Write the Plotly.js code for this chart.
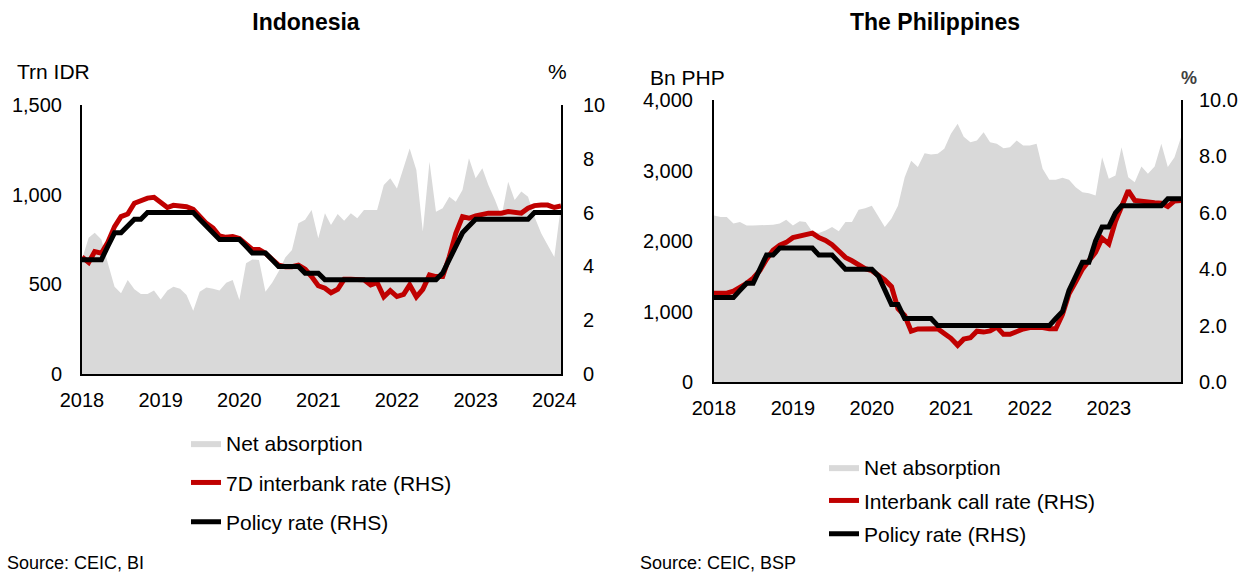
<!DOCTYPE html>
<html>
<head>
<meta charset="utf-8">
<script src="https://cdn.plot.ly/plotly-3.0.1.min.js"></script>
<style>
  html, body { margin: 0; padding: 0; background: #fff; }
  #wrap { position: relative; width: 1252px; height: 572px; }
  #idn { position: absolute; left: 0; top: 0; width: 626px; height: 572px; }
  #phl { position: absolute; left: 626px; top: 0; width: 626px; height: 572px; }
</style>
</head>
<body>
<div id="wrap"><div id="idn"></div><div id="phl"></div></div>
<script>
// ---------------- DATA ----------------
// Indonesia: monthly, Jan 2018 - Feb 2024
const idStart = [2018, 1];
const idNetAbsorption = [640,760,788,750,617,487,450,524,472,446,446,465,
  416,465,487,476,440,353,459,483,476,465,509,524,
  413,617,639,636,459,509,571,650,691,840,860,914,
  757,896,831,892,855,896,868,914,914,914,1054,1091,
  1035,1147,1258,1138,794,1184,905,924,989,961,1026,1203,
  1091,1147,1054,970,877,1072,970,1017,989,877,785,719,
  652,940];
const idInterbank = [4.35,4.15,4.55,4.49,4.90,5.48,5.85,5.95,6.35,6.45,6.54,6.57,
  6.37,6.19,6.27,6.26,6.22,6.12,5.85,5.60,5.42,5.13,5.08,5.11,
  5.04,4.82,4.63,4.63,4.49,4.26,4.05,3.99,3.99,4.05,3.90,3.62,
  3.28,3.19,3.02,3.15,3.52,3.52,3.52,3.50,3.31,3.40,2.87,3.10,
  2.88,2.96,3.31,2.87,3.15,3.68,3.62,3.62,4.36,5.23,5.85,5.79,
  5.88,5.95,5.98,5.98,5.98,6.04,6.00,5.98,6.16,6.26,6.28,6.28,
  6.19,6.25];
const idPolicy = [4.25,4.25,4.25,4.25,4.75,5.25,5.25,5.50,5.75,5.75,6.00,6.00,
  6.00,6.00,6.00,6.00,6.00,6.00,5.75,5.50,5.25,5.00,5.00,5.00,
  5.00,4.75,4.50,4.50,4.50,4.25,4.00,4.00,4.00,4.00,3.75,3.75,
  3.75,3.50,3.50,3.50,3.50,3.50,3.50,3.50,3.50,3.50,3.50,3.50,
  3.50,3.50,3.50,3.50,3.50,3.50,3.50,3.75,4.25,4.75,5.25,5.50,
  5.75,5.75,5.75,5.75,5.75,5.75,5.75,5.75,5.75,6.00,6.00,6.00,
  6.00,6.00];
const idYearTicks = ['2018','2019','2020','2021','2022','2023','2024'];

// Philippines: monthly, Jan 2018 - Dec 2023
const phStart = [2018, 1];
const phNetAbsorption = [2360,2340,2340,2250,2270,2220,2220,2220,2220,2230,2250,2300,
  2220,2280,2270,2130,2115,2150,2200,2140,2270,2270,2445,2466,
  2500,2340,2200,2320,2500,2906,3140,3050,3245,3227,3237,3310,
  3520,3662,3480,3402,3426,3544,3402,3379,3317,3331,3426,3355,
  3355,3379,3025,2869,2869,2897,2869,2764,2693,2679,2646,3189,
  2883,2930,3331,2906,2835,3057,2953,3057,3379,3050,3189,3473];
const phInterbank = [3.15,3.15,3.15,3.22,3.35,3.50,3.68,3.95,4.35,4.67,4.85,4.95,
  5.12,5.17,5.22,5.28,5.12,5.02,4.87,4.62,4.42,4.30,4.13,4.02,
  3.95,3.80,3.62,3.38,2.60,2.36,1.80,1.88,1.87,1.86,1.89,1.72,
  1.55,1.30,1.52,1.57,1.80,1.77,1.81,1.95,1.69,1.69,1.81,1.88,
  1.93,1.95,1.93,1.89,1.89,2.40,3.13,3.55,4.00,4.30,4.60,5.10,
  4.90,5.70,6.20,6.79,6.44,6.40,6.38,6.36,6.34,6.22,6.42,6.44];
const phPolicy = [3.00,3.00,3.00,3.00,3.25,3.50,3.50,4.00,4.50,4.50,4.75,4.75,
  4.75,4.75,4.75,4.75,4.50,4.50,4.50,4.25,4.00,4.00,4.00,4.00,
  4.00,3.75,3.25,2.75,2.75,2.25,2.25,2.25,2.25,2.25,2.00,2.00,
  2.00,2.00,2.00,2.00,2.00,2.00,2.00,2.00,2.00,2.00,2.00,2.00,
  2.00,2.00,2.00,2.00,2.25,2.50,3.25,3.75,4.25,4.25,5.00,5.50,
  5.50,6.00,6.25,6.25,6.25,6.25,6.25,6.25,6.25,6.50,6.50,6.50];
const phYearTicks = ['2018','2019','2020','2021','2022','2023'];

// ---------------- HELPERS ----------------
function monthDates(start, n) {
  const out = [];
  let y = start[0], m = start[1];
  for (let k = 0; k < n; k++) {
    out.push(y + '-' + String(m).padStart(2, '0') + '-01');
    m++; if (m > 12) { m = 1; y++; }
  }
  return out;
}
const FONT = 'Liberation Sans, Arial, sans-serif';
const GREY = '#d9d9d9', RED = '#c00000', BLACK = '#000000';

function buildTraces(dates, net, ib, pol, ibName) {
  return [
    { x: dates, y: net, type: 'scatter', mode: 'lines', name: 'Net absorption',
      fill: 'tozeroy', fillcolor: GREY, line: { width: 0, color: GREY },
      legendgroup: 'a', yaxis: 'y', hoverinfo: 'skip' },
    { x: dates, y: ib, type: 'scatter', mode: 'lines', name: ibName,
      line: { width: 5, color: RED }, legendgroup: 'b', yaxis: 'y2' },
    { x: dates, y: pol, type: 'scatter', mode: 'lines', name: 'Policy rate (RHS)',
      line: { width: 5, color: BLACK }, legendgroup: 'c', yaxis: 'y2' }
  ];
}

function baseLayout(o) {
  return {
    width: 626, height: 572,
    margin: { l: o.l, r: o.r, t: o.t, b: o.b, pad: 0 },
    paper_bgcolor: '#fff', plot_bgcolor: 'rgba(0,0,0,0)',
    font: { family: FONT, size: 20, color: '#000' },
    showlegend: true,
    title: { text: '<b>' + o.title + '</b>', font: { family: FONT, size: 23, color: '#000' },
      x: o.titleX, xref: 'container', xanchor: 'center',
      y: 1 - 22 / 572, yref: 'container', yanchor: 'middle' },
    xaxis: {
      type: 'date', range: o.xrange, showgrid: false, zeroline: false,
      showline: true, linecolor: '#000', linewidth: 2,
      ticks: '', tickvals: o.tickvals, ticktext: o.ticktext,
      tickfont: { family: FONT, size: 20, color: '#000' }, ticklabelstandoff: 7
    },
    yaxis: {
      range: o.yrange, dtick: o.ydtick, tickformat: ',', showgrid: false, zeroline: false,
      showline: true, linecolor: '#000', linewidth: 2, ticks: '',
      tickfont: { family: FONT, size: 20, color: '#000' }, ticklabelstandoff: o.yStand
    },
    yaxis2: {
      overlaying: 'y', side: 'right', range: [0, 10], dtick: 2, tickformat: o.y2fmt,
      showgrid: false, zeroline: false, showline: true, linecolor: '#000', linewidth: 2,
      ticks: '', tickfont: { family: FONT, size: 20, color: '#000' }, ticklabelstandoff: o.y2Stand
    },
    legend: {
      orientation: 'v', x: o.legX, xanchor: 'left', y: o.legY, yanchor: 'top',
      font: { family: FONT, size: 21, color: '#000' }, bgcolor: 'rgba(0,0,0,0)',
      tracegroupgap: o.legGap, traceorder: 'grouped'
    },
    annotations: o.annotations
  };
}

// ---------------- INDONESIA ----------------
const idDates = monthDates(idStart, idNetAbsorption.length);
const idTickVals = idYearTicks.map(y => y + '-01-01');
const idLayout = baseLayout({
  l: 82, r: 65, t: 105, b: 198, title: 'Indonesia', titleX: 306 / 626,
  xrange: [idDates[0], idDates[idDates.length - 1]],
  tickvals: idTickVals, ticktext: idYearTicks,
  yrange: [0, 1500], ydtick: 500, y2fmt: 'd', yStand: 14, y2Stand: 16,
  legX: (186 - 82) / 479, legY: (374 - 423) / 269, legGap: 9,
  annotations: [
    { text: 'Trn IDR', xref: 'paper', yref: 'paper', x: (15 - 82) / 479, y: (374 - 72) / 269,
      xanchor: 'left', yanchor: 'middle', showarrow: false, font: { family: FONT, size: 21, color: '#000' } },
    { text: '%', xref: 'paper', yref: 'paper', x: (557 - 82) / 479, y: (374 - 72) / 269,
      xanchor: 'center', yanchor: 'middle', showarrow: false, font: { family: FONT, size: 21, color: '#000' } },
    { text: 'Source: CEIC, BI', xref: 'paper', yref: 'paper', x: (5 - 82) / 479, y: (374 - 563) / 269,
      xanchor: 'left', yanchor: 'middle', showarrow: false, font: { family: FONT, size: 18, color: '#000' } }
  ]
});
Plotly.newPlot('idn', buildTraces(idDates, idNetAbsorption, idInterbank, idPolicy, '7D interbank rate (RHS)'),
  idLayout, { displayModeBar: false, staticPlot: true });

// ---------------- PHILIPPINES ----------------
const phDates = monthDates(phStart, phNetAbsorption.length);
const phTickVals = phYearTicks.map(y => y + '-01-01');
const phLayout = baseLayout({
  l: 88, r: 71, t: 100, b: 190, title: 'The Philippines', titleX: 309 / 626,
  xrange: [phDates[0], phDates[phDates.length - 1]],
  tickvals: phTickVals, ticktext: phYearTicks,
  yrange: [0, 4000], ydtick: 1000, y2fmt: '.1f', yStand: 15, y2Stand: 12,
  legX: (198 - 88) / 467, legY: (382 - 447) / 282, legGap: 3,
  annotations: [
    { text: 'Bn PHP', xref: 'paper', yref: 'paper', x: (22 - 88) / 467, y: (382 - 77) / 282,
      xanchor: 'left', yanchor: 'middle', showarrow: false, font: { family: FONT, size: 21, color: '#000' } },
    { text: '<b>%</b>', xref: 'paper', yref: 'paper', x: (563 - 88) / 467, y: (382 - 78) / 282,
      xanchor: 'center', yanchor: 'middle', showarrow: false, font: { family: FONT, size: 18, color: '#404040' } },
    { text: 'Source: CEIC, BSP', xref: 'paper', yref: 'paper', x: (12 - 88) / 467, y: (382 - 563) / 282,
      xanchor: 'left', yanchor: 'middle', showarrow: false, font: { family: FONT, size: 18, color: '#000' } }
  ]
});
Plotly.newPlot('phl', buildTraces(phDates, phNetAbsorption, phInterbank, phPolicy, 'Interbank call rate (RHS)'),
  phLayout, { displayModeBar: false, staticPlot: true });
</script>
</body>
</html>
